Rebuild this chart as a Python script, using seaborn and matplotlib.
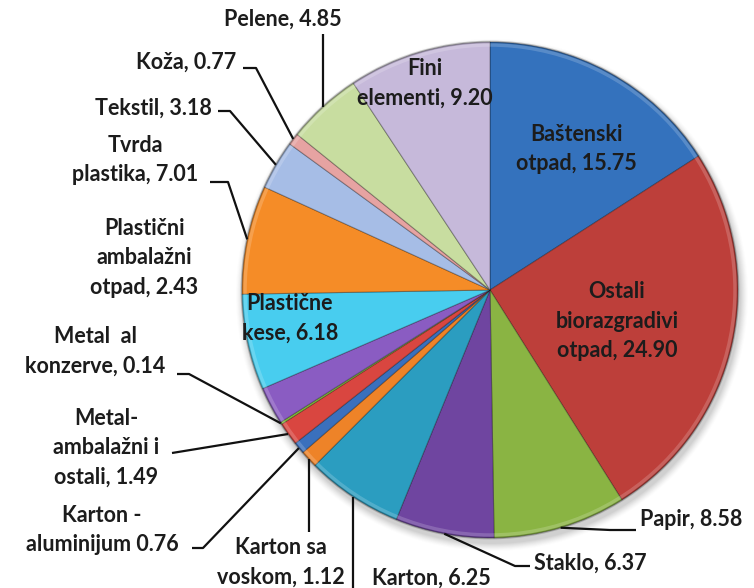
import numpy as np
import matplotlib
matplotlib.use("Agg")
import matplotlib.pyplot as plt
from matplotlib.patches import Circle
import seaborn as sns

# Waste composition (% by mass), clockwise from 12 o'clock
categories = [
    "Baštenski\notpad", "Ostali\nbiorazgradivi\notpad", "Papir", "Staklo", "Karton",
    "Karton sa\nvoskom", "Karton -\naluminijum", "Metal-\nambalažni i\nostali",
    "Metal  al\nkonzerve", "Plastični\nambalažni\notpad", "Plastične\nkese",
    "Tvrda\nplastika", "Tekstil", "Koža", "Pelene", "Fini\nelementi",
]
values = [15.75, 24.90, 8.58, 6.37, 6.25, 1.12, 0.76, 1.49,
          0.14, 2.43, 6.18, 7.01, 3.18, 0.77, 4.85, 9.20]
separators = [", "] * 6 + [" "] + [", "] * 9

colors = [
    "#3472bd", "#bd3f3a", "#8ab443", "#6f45a0", "#2b9dc0", "#ee8328",
    "#3a70bd", "#d94640", "#86c23c", "#8a5cc2", "#48cdef", "#f58c27",
    "#a6bde6", "#e6a3a2", "#c8dda0", "#c6b9da",
]

sns.set_theme(style="white")
plt.rcParams["font.family"] = ["Lato", "DejaVu Sans"]

W, H = 754, 588
fig = plt.figure(figsize=(W / 100, H / 100), dpi=100)
ax = fig.add_axes([0, 0, 1, 1])

cx, cy, R = 490, 290, 248          # pie centre / radius in pixel units (y down)
center = (cx, H - cy)

# soft drop shadow under the pie
for k, a in zip(range(8, 0, -1), np.linspace(0.015, 0.06, 8)):
    ax.add_patch(Circle((cx + 2, H - cy - 5), R + k, color="0.35", alpha=a, lw=0, zorder=0))

wedges, _ = ax.pie(values, colors=colors, startangle=90, counterclock=False,
                   center=center, radius=R, frame=True,
                   wedgeprops=dict(edgecolor=(0, 0, 0, 0.28), linewidth=0.8))

# gentle bevel: darker rim on the outline
ax.add_patch(Circle(center, R, fill=False, ec=(0, 0, 0, 0.18), lw=2.0, zorder=3))
ax.add_patch(Circle(center, R - 3, fill=False, ec=(1, 1, 1, 0.18), lw=2.5, zorder=3))

ax.set_xlim(0, W)
ax.set_ylim(0, H)
ax.set_aspect("auto")
ax.axis("off")

# label placement: (x, y, ha, leader) ; leader kinds:
#   None, ("h", x0, y0, x1) -> from (x0,y0) horizontally to x1 then to slice edge
#   ("v", y0) -> vertical from y0 to slice edge, ("d", x0, y0) -> straight to slice edge
layout = [
    (576, 149, "center", None),
    (617, 321, "center", None),
    (640, 520, "left", ("h", 636, 530, 610)),
    (534, 563, "left", ("h", 530, 566, 515)),
    (372, 578, "left", ("v", 588)),
    (281, 562, "center", ("v", 532)),
    (102, 530, "center", ("h", 192, 548, 203)),
    (106, 448, "center", ("d", 172, 453)),
    (95, 351, "center", ("h", 177, 374, 189)),
    (144, 258, "center", None),
    (290, 318, "center", None),
    (135, 160, "center", ("h", 210, 182, 228)),
    (212, 108, "right", ("h", 218, 111, 230)),
    (236, 62, "right", ("h", 243, 68, 256)),
    (283, 19, "center", ("v", 34)),
    (425, 83, "center", None),
]

text_kw = dict(fontsize=15.5, fontweight="bold", color="#1c1c1c",
               va="center", linespacing=1.5, zorder=5)
line_kw = dict(color="#111111", lw=1.6, zorder=4, solid_capstyle="butt")

for w, name, sep, v, (x, y, ha, leader) in zip(wedges, categories, separators, values, layout):
    ax.text(x, H - y, f"{name}{sep}{v:.2f}", ha=ha, multialignment="center", **text_kw)
    if leader is None:
        continue
    mid = np.deg2rad((w.theta1 + w.theta2) / 2)
    axp = cx + R * np.cos(mid)
    ayp = cy - R * np.sin(mid)
    if leader[0] == "h":
        _, x0, y0, x1 = leader
        xs, ys = [x0, x1, axp], [y0, y0, ayp]
    elif leader[0] == "v":
        xs, ys = [axp, axp], [leader[1], ayp]
    else:
        xs, ys = [leader[1], axp], [leader[2], ayp]
    ax.plot(xs, [H - t for t in ys], **line_kw)

fig.savefig("out.png", dpi=100, facecolor="white")
